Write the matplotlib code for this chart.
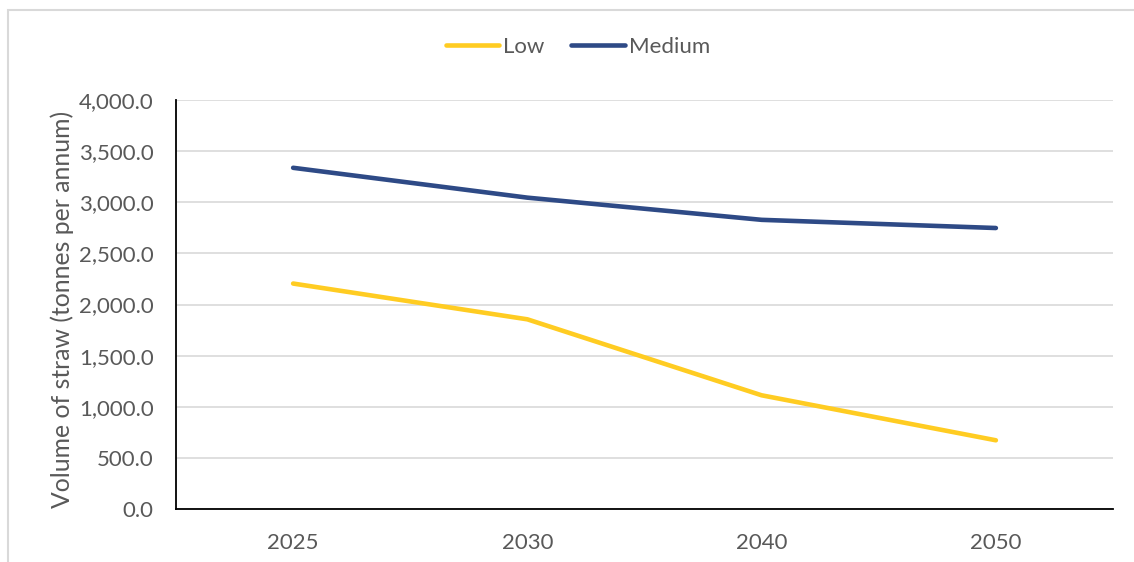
import matplotlib
matplotlib.use("Agg")
from matplotlib import pyplot as plt
from matplotlib.patches import Rectangle

years = ["2025", "2030", "2040", "2050"]
low = [2205, 1855, 1112, 672]
medium = [3337, 3045, 2828, 2748]

plt.rcParams['font.family'] = ['Lato', 'DejaVu Sans']
TEXT = "#595959"

W, H = 1134, 562
fig = plt.figure(figsize=(W / 100, H / 100), dpi=100)

# outer chart border (left and top edges visible, rest cropped)
fig.patches.append(Rectangle((8 / W, 0 - 0.05), 1.2, 1 - 9.5 / H + 0.05,
                             transform=fig.transFigure, fill=False,
                             edgecolor="#d9d9d9", linewidth=1.5))

ax = fig.add_axes([176 / W, 1 - 509 / H, (1113 - 176) / W, (509 - 100) / H])

x = range(len(years))
ax.plot(x, low, color="#FFCC22", linewidth=3.3, solid_capstyle="round", label="Low")
ax.plot(x, medium, color="#2E4A86", linewidth=3.3, solid_capstyle="round", label="Medium")

ax.set_xlim(-0.5, len(years) - 0.5)
ax.set_ylim(0, 4000)
ax.set_yticks(range(0, 4001, 500))
ax.set_yticklabels([f"{v:,.1f}" for v in range(0, 4001, 500)])
ax.set_xticks(list(x))
ax.set_xticklabels(years)

ax.grid(axis="y", color="#d9d9d9", linewidth=1.2)
ax.set_axisbelow(True)
for s in ["top", "right"]:
  ax.spines[s].set_visible(False)
ax.spines["left"].set_color("black")
ax.spines["bottom"].set_color("black")
ax.spines["left"].set_linewidth(1.3)
ax.spines["bottom"].set_linewidth(1.3)
ax.tick_params(length=0, labelsize=16, colors=TEXT)
ax.tick_params(axis="y", pad=16)
ax.tick_params(axis="x", pad=17)

ax.set_ylabel("Volume of straw (tonnes per annum)", fontsize=17.8, color=TEXT)
ax.yaxis.set_label_coords(-0.109, 0.489)

fig.legend(loc="center", bbox_to_anchor=(578 / W, 1 - 47 / H), ncol=2, frameon=False,
           fontsize=16, handlelength=2.4, handletextpad=0.2, columnspacing=1.2,
           labelcolor=TEXT)

plt.savefig("out.png", dpi=100)
